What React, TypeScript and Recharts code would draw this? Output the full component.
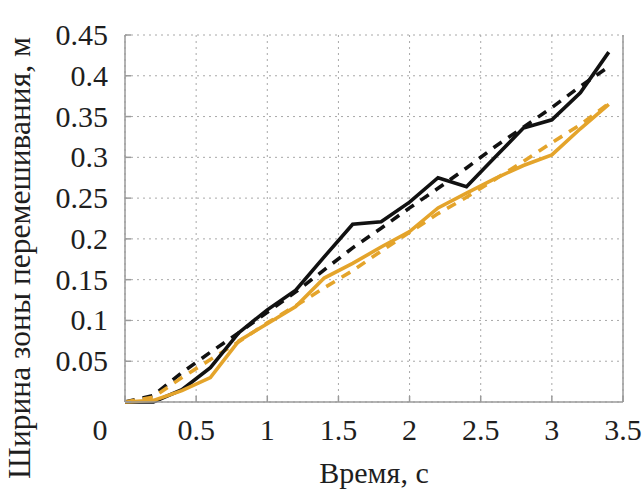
import { LineChart, Line, XAxis, YAxis, CartesianGrid } from "recharts"

const time = [0, 0.2, 0.4, 0.6, 0.8, 1.0, 1.2, 1.4, 1.6, 1.8, 2.0, 2.2, 2.4, 2.6, 2.8, 3.0, 3.2, 3.4]

// black solid / dashed, orange solid / dashed
const blackSolid = [0, 0, 0.015, 0.042, 0.085, 0.113, 0.137, 0.178, 0.218, 0.221, 0.245, 0.275, 0.264, 0.3, 0.336, 0.346, 0.379, 0.429]
const blackDashed = [0, 0.008, 0.036, 0.061, 0.085, 0.11, 0.135, 0.162, 0.189, 0.213, 0.238, 0.262, 0.287, 0.313, 0.337, 0.361, 0.387, 0.411]
const orangeSolid = [0, 0.002, 0.014, 0.03, 0.075, 0.096, 0.117, 0.152, 0.17, 0.19, 0.209, 0.238, 0.256, 0.274, 0.29, 0.303, 0.335, 0.365]
const orangeDashed = [0, 0.006, 0.03, 0.052, 0.074, 0.097, 0.118, 0.14, 0.161, 0.185, 0.208, 0.231, 0.251, 0.273, 0.295, 0.318, 0.34, 0.366]

const xTicks = [0, 0.5, 1, 1.5, 2, 2.5, 3, 3.5]
const yTicks = [0, 0.05, 0.1, 0.15, 0.2, 0.25, 0.3, 0.35, 0.4, 0.45]

const xTitle = "Время, с"
const yTitle = "Ширина зоны перемешивания, м"

const data = time.map((t, i) => ({
  t,
  bs: blackSolid[i],
  bd: blackDashed[i],
  os: orangeSolid[i],
  od: orangeDashed[i],
}))

const FONT = "Liberation Serif"
const FS = 30
const FRAME = "#9a9a9a"
const BLACK = "#111111"
const ORANGE = "#e4a42b"

function Label(props: any) {
  const { children, size, ...rest } = props
  return (
    <text {...rest} fontFamily={FONT} fontSize={size || FS} fill="#1e1e1e" style={{ fontFamily: FONT }}>
      {children}
    </text>
  )
}

function BottomTick(props: any) {
  const { x, y, payload } = props
  const v = payload.value
  return (
    <g>
      <line x1={x} y1={y} x2={x} y2={y - 6} stroke={FRAME} strokeWidth={1.5} />
      <Label x={v === 0 ? x - 25 : x} y={y + 38} textAnchor="middle">
        {String(v)}
      </Label>
    </g>
  )
}

function TopTick(props: any) {
  const { x, y } = props
  return <line x1={x} y1={y} x2={x} y2={y + 6} stroke={FRAME} strokeWidth={1.5} />
}

function LeftTick(props: any) {
  const { x, y, payload } = props
  const v = payload.value
  return (
    <g>
      <line x1={x} y1={y} x2={x + 6} y2={y} stroke={FRAME} strokeWidth={1.5} />
      {v !== 0 && (
        <Label x={x - 17} y={y + 10} textAnchor="end">
          {String(v)}
        </Label>
      )}
    </g>
  )
}

function RightTick(props: any) {
  const { x, y } = props
  return <line x1={x} y1={y} x2={x - 6} y2={y} stroke={FRAME} strokeWidth={1.5} />
}

function XTitle(props: any) {
  const { viewBox } = props
  return (
    <Label x={viewBox.x + viewBox.width / 2} y={viewBox.y + 81} textAnchor="middle">
      {xTitle}
    </Label>
  )
}

function YTitle() {
  const cx = 19
  const cy = 258
  return (
    <Label
      x={cx}
      y={cy}
      size={31.5}
      transform={`rotate(-90, ${cx}, ${cy})`}
      textAnchor="middle"
      dominantBaseline="central"
    >
      {yTitle}
    </Label>
  )
}

export default function App() {
  return (
    <div style={{ position: "absolute", left: 0, top: 0, background: "#fff" }}>
      <LineChart width={644} height={496} data={data} margin={{ top: 35, right: 0, bottom: 0, left: 0 }}>
        <CartesianGrid stroke="#a8a8a8" strokeDasharray="2 4" strokeWidth={1} />
        <XAxis
          dataKey="t"
          type="number"
          domain={[0, 3.5]}
          ticks={xTicks}
          height={94}
          tickSize={0}
          tickMargin={0}
          axisLine={{ stroke: FRAME, strokeWidth: 1.5 }}
          tick={(p: any) => <BottomTick {...p} />}
          label={(p: any) => <XTitle {...p} />}
        />
        <XAxis
          xAxisId="top"
          orientation="top"
          dataKey="t"
          type="number"
          domain={[0, 3.5]}
          ticks={xTicks}
          height={0}
          tickSize={0}
          tickMargin={0}
          axisLine={{ stroke: FRAME, strokeWidth: 1.5 }}
          tick={(p: any) => <TopTick {...p} />}
        />
        <YAxis
          type="number"
          domain={[0, 0.45]}
          ticks={yTicks}
          width={125}
          tickSize={0}
          tickMargin={0}
          axisLine={{ stroke: FRAME, strokeWidth: 1.5 }}
          tick={(p: any) => <LeftTick {...p} />}
          label={() => <YTitle />}
        />
        <YAxis
          yAxisId="right"
          orientation="right"
          type="number"
          domain={[0, 0.45]}
          ticks={yTicks}
          width={21}
          tickSize={0}
          tickMargin={0}
          axisLine={{ stroke: FRAME, strokeWidth: 1.5 }}
          tick={(p: any) => <RightTick {...p} />}
        />
        <Line type="linear" dataKey="bd" stroke={BLACK} strokeWidth={3.6} strokeDasharray="10 8" dot={false} isAnimationActive={false} />
        <Line type="linear" dataKey="od" stroke={ORANGE} strokeWidth={3.6} strokeDasharray="10 8" dot={false} isAnimationActive={false} />
        <Line type="linear" dataKey="bs" stroke={BLACK} strokeWidth={3.6} dot={false} isAnimationActive={false} />
        <Line type="linear" dataKey="os" stroke={ORANGE} strokeWidth={3.6} dot={false} isAnimationActive={false} />
      </LineChart>
    </div>
  )
}
